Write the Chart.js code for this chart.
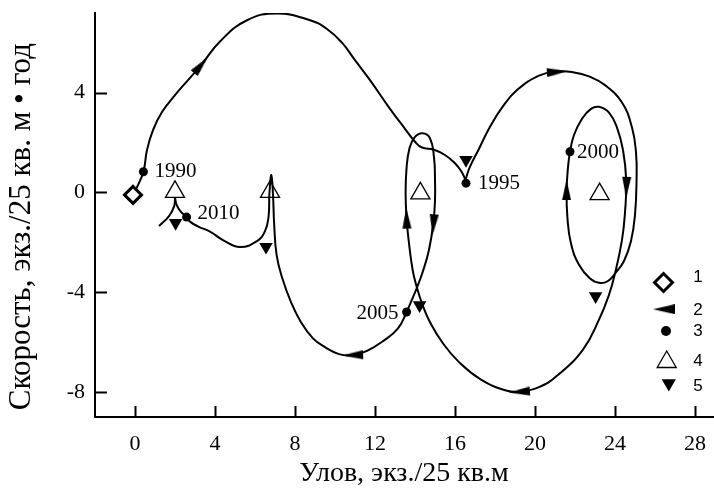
<!DOCTYPE html>
<html>
<head>
<meta charset="utf-8">
<script src="https://cdn.jsdelivr.net/npm/chart.js@4.4.0/dist/chart.umd.min.js"></script>
<style>
  html, body { margin: 0; background: #fff; }
</style>
</head>
<body>
<canvas id="c" width="714" height="490"></canvas>
<script>
// axis ticks
const xTicks = [0, 2, 4, 6, 8, 10, 12, 14, 16, 18, 20, 22, 24, 26, 28];
const yTicks = [-8, -6, -4, -2, 0, 2, 4, 6];

// trajectory (x = catch, y = rate), split at the sharp turns
const pathA = [[0.08,0.17],[0.42,0.83],[0.6,1.7],[0.9,2.5],[1.35,3.22],[2.0,3.9],[2.65,4.5],
  [3.3,5.1],[4.25,6.05],[5.6,6.9],[7.1,7.17],[8.75,6.9],[9.6,6.55],[10.35,6.0],[11.0,5.3],
  [11.75,4.5],[12.75,3.35],[13.5,2.55],[14.0,2.03],[14.35,1.8],[14.92,1.72],[15.5,1.5],
  [16.0,1.17],[16.33,0.83],[16.52,0.5]];
const pathB = [[16.52,0.5],[16.75,1.03],[17.17,1.7],[17.75,2.63],[18.35,3.4],[19.1,4.1],[20.2,4.68],
  [21.1,4.85],[21.9,4.82],[22.7,4.65],[23.5,4.3],[24.35,3.6],[24.85,2.6],[25.05,1.6],[25.08,0.6],
  [25.0,-0.9],[24.8,-1.95],[24.45,-2.75],[24.0,-3.25],[23.65,-3.55],[23.25,-3.63],[22.75,-3.45],
  [22.2,-2.9],[21.8,-2.05],[21.62,-1.0],[21.58,0.05],[21.65,1.0],[21.75,1.63],[21.95,2.3],
  [22.35,2.95],[22.8,3.35],[23.2,3.43],[23.7,3.2],[24.1,2.6],[24.4,1.7],[24.56,0.5],[24.5,-0.8],
  [24.35,-1.9],[24.0,-3.25],[23.7,-4.1],[23.2,-5.1],[22.4,-6.3],[21.1,-7.35],[20.2,-7.8],
  [19.3,-7.98],[18.6,-7.95],[17.3,-7.5],[16.2,-6.8],[15.4,-6.05],[14.75,-5.2],[14.35,-4.45],
  [14.08,-3.77],[13.88,-3.1],[13.68,-1.9],[13.58,-1.05],[13.53,0.0],[13.58,1.0],[13.72,1.75],
  [13.97,2.2],[14.37,2.37],[14.75,2.17],[14.95,1.4],[15.0,0.5],[15.0,-0.3],[14.92,-1.2],
  [14.7,-2.3],[14.38,-3.2],[14.08,-3.85],[13.82,-4.35],[13.58,-4.79],[13.15,-5.45],[12.42,-5.95],
  [11.6,-6.35],[10.9,-6.52],[10.2,-6.48],[9.5,-6.2],[8.9,-5.85],[8.3,-5.2],[7.8,-4.4],[7.35,-3.4],
  [7.08,-2.5],[6.96,-1.3],[6.9,-0.1],[6.82,0.7],[6.72,-0.05],[6.68,-0.95],[6.5,-1.55],[6.1,-1.95],
  [5.25,-2.19],[4.42,-1.92],[3.75,-1.57],[3.17,-1.37],[2.75,-1.17],[2.58,-0.99],[2.3,-0.78],
  [2.08,-0.5],[2.0,-0.2]];
const pathC = [[2.0,-0.2],[1.96,-0.55],[1.7,-0.95],[1.2,-1.35]];

// 1: start point
const startX = [-0.1];
const startY = [-0.1];
// 2: direction arrows
const arrowX = [3.3, 21.12, 21.58, 24.57, 19.22, 13.58, 14.92, 10.88];
const arrowY = [5.1, 4.83, 0.1, 0.2, -7.99, -1.03, -1.3, -6.52];
const arrowAngle = [-50, -4, -90, 92, 176, -92, 95, 178];
// 3: years
const years = ['1990', '1995', '2000', '2005', '2010'];
const yearX = [0.42, 16.55, 21.75, 13.58, 2.58];
const yearY = [0.83, 0.37, 1.63, -4.79, -0.99];
// 4: open triangles
const openX = [2.0, 6.75, 14.27, 23.23];
const openY = [0.02, 0.02, -0.04, -0.07];
// 5: filled down triangles
const downX = [2.03, 6.55, 16.55, 14.23, 23.03];
const downY = [-1.22, -2.18, 1.3, -4.52, -4.16];

const legendLabels = ['1', '2', '3', '4', '5'];

const serif = '"Liberation Serif", "Times New Roman", serif';
const sans = '"Liberation Sans", Arial, sans-serif';

const pts = (xs, ys) => xs.map((v, i) => ({x: v, y: ys[i]}));
const line = arr => arr.map(p => ({x: p[0], y: p[1]}));

function makeArrow(len, wid) {
  const c = document.createElement('canvas');
  c.width = len; c.height = wid;
  const g = c.getContext('2d');
  g.fillStyle = '#000';
  g.beginPath();
  g.moveTo(len, wid / 2);
  g.lineTo(0, 0);
  g.lineTo(0, wid);
  g.closePath();
  g.fill();
  return c;
}
const arrowImg = makeArrow(21, 9);
const legendArrow = makeArrow(22, 10);

// label offsets (px) for the year marks
const yearPos = [['left', 11, 0], ['left', 12, 0], ['left', 7, 1], ['right', -8, 2], ['left', 11, -4]];
// legend layout (px)
const legSymX = [663.5, 664, 666, 666.7, 668.8];
const legSymY = [282.5, 309.3, 331, 362, 383.4];
const legNumY = [277, 310, 331.7, 361.7, 386.7];
const legNumX = 698;

const extras = {
  id: 'extras',
  afterDatasetsDraw(chart) {
    const {ctx, chartArea: a} = chart;
    const sx = chart.scales.x, sy = chart.scales.y;
    ctx.save();
    ctx.strokeStyle = '#000';
    ctx.lineWidth = 2;
    ctx.beginPath();
    sx.ticks.forEach(t => {
      const px = Math.round(sx.getPixelForValue(t.value)) + 0.5;
      const len = t.value % 4 === 0 ? 11 : 6;
      ctx.moveTo(px, a.bottom); ctx.lineTo(px, a.bottom - len);
    });
    sy.ticks.forEach(t => {
      const py = Math.round(sy.getPixelForValue(t.value)) + 0.5;
      const len = t.value % 4 === 0 ? 12 : 7;
      ctx.moveTo(a.left, py); ctx.lineTo(a.left + len, py);
    });
    ctx.stroke();

    ctx.fillStyle = '#000';
    ctx.font = '21px ' + serif;
    ctx.textBaseline = 'middle';
    years.forEach((t, i) => {
      const p = yearPos[i];
      ctx.textAlign = p[0];
      ctx.fillText(t, sx.getPixelForValue(yearX[i]) + p[1], sy.getPixelForValue(yearY[i]) + p[2]);
    });

    // legend
    const H = Chart.helpers;
    const sym = [
      {pointStyle: 'rectRot', radius: 9, borderWidth: 3, fill: '#fff'},
      {pointStyle: legendArrow, radius: 5, rotation: 180, borderWidth: 0, fill: '#000'},
      {pointStyle: 'circle', radius: 5, borderWidth: 0, fill: '#000'},
      {pointStyle: 'triangle', radius: 11, borderWidth: 1.3, fill: 'rgba(0,0,0,0)'},
      {pointStyle: 'triangle', radius: 8.2, rotation: 180, borderWidth: 0, fill: '#000'}
    ];
    sym.forEach((s, i) => {
      ctx.fillStyle = s.fill;
      ctx.strokeStyle = '#000';
      ctx.lineWidth = s.borderWidth;
      H.drawPoint(ctx, {pointStyle: s.pointStyle, radius: s.radius, rotation: s.rotation || 0, borderWidth: s.borderWidth}, legSymX[i], legSymY[i]);
    });
    ctx.fillStyle = '#000';
    ctx.font = '17px ' + sans;
    ctx.textAlign = 'center';
    legendLabels.forEach((t, i) => ctx.fillText(t, legNumX, legNumY[i]));
    ctx.restore();
  }
};

const curve = data => ({
  data: line(data), showLine: true, tension: 0.45, borderColor: '#000', borderWidth: 2,
  pointRadius: 0, fill: false
});

new Chart(document.getElementById('c'), {
  type: 'scatter',
  data: {
    datasets: [
      {data: pts(startX, startY), pointStyle: 'rectRot', pointRadius: 8.5, borderWidth: 3,
        borderColor: '#000', backgroundColor: '#fff'},
      {data: pts(yearX, yearY), pointStyle: 'circle', pointRadius: 4.5, borderWidth: 0,
        backgroundColor: '#000'},
      {data: pts(arrowX, arrowY), pointStyle: arrowImg, pointRadius: 5,
        rotation: c => arrowAngle[c.dataIndex]},
      {data: pts(openX, openY), pointStyle: 'triangle', pointRadius: 11, borderWidth: 1.3,
        borderColor: '#000', backgroundColor: 'rgba(0,0,0,0)'},
      {data: pts(downX, downY), pointStyle: 'triangle', pointRadius: 7.8, rotation: 180,
        borderWidth: 0, backgroundColor: '#000'},
      curve(pathA),
      curve(pathB),
      curve(pathC)
    ]
  },
  options: {
    responsive: false,
    animation: false,
    events: [],
    layout: {autoPadding: false, padding: {top: 13, right: 1, left: 0, bottom: 0}},
    plugins: {legend: {display: false}, tooltip: {enabled: false}},
    scales: {
      x: {
        type: 'linear', min: -2, max: 28.9,
        afterFit: s => { s.height = 73; },
        afterBuildTicks: s => { s.ticks = xTicks.map(v => ({value: v})); },
        grid: {display: false, drawTicks: false},
        border: {display: true, color: '#000', width: 2},
        ticks: {autoSkip: false, maxRotation: 0, padding: 0, color: '#000',
          font: {family: serif, size: 22, lineHeight: 2.45},
          callback: v => (v % 4 === 0 ? String(v) : null)},
        title: {display: true, text: 'Улов, экз./25 кв.м', color: '#000',
          font: {family: serif, size: 28, lineHeight: 1.2}, padding: {top: 0, bottom: 0}}
      },
      y: {
        type: 'linear', min: -9, max: 7.19,
        afterFit: s => { s.width = 95; },
        afterBuildTicks: s => { s.ticks = yTicks.map(v => ({value: v})); },
        grid: {display: false, drawTicks: false},
        border: {display: true, color: '#000', width: 2},
        ticks: {autoSkip: false, padding: 10, color: '#000',
          font: {family: serif, size: 22, lineHeight: 0.2},
          callback: v => (v % 4 === 0 ? String(v) : null)},
        title: {display: true, text: 'Скорость, экз./25 кв. м • год   ', color: '#000',
          font: {family: serif, size: 31, lineHeight: 1.2}, padding: {top: 3, bottom: 0}}
      }
    }
  },
  plugins: [extras]
});
</script>
</body>
</html>
